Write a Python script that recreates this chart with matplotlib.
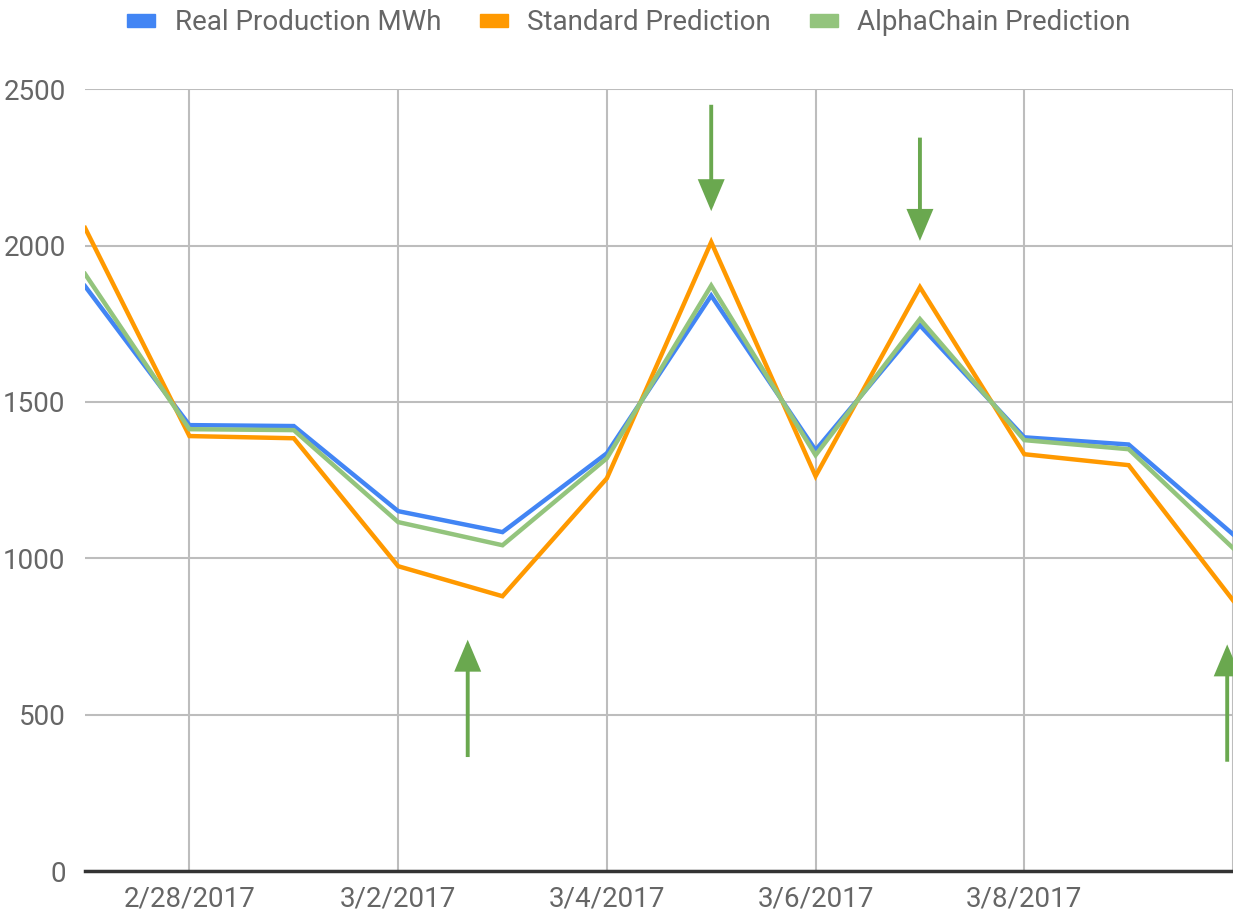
import matplotlib
matplotlib.use("Agg")
import matplotlib.pyplot as plt
import matplotlib.dates as mdates
from matplotlib.patches import Patch
import pandas as pd

plt.rcParams['font.family'] = ['Roboto', 'DejaVu Sans']

dates = pd.date_range("2017-02-27", "2017-03-10", freq="D")
real = [1870, 1426, 1423, 1151, 1084, 1336, 1840, 1346, 1745, 1387, 1364, 1077]
standard = [2056, 1391, 1384, 975, 879, 1256, 2011, 1263, 1867, 1333, 1298, 866]
alphachain = [1909, 1413, 1410, 1116, 1042, 1320, 1872, 1330, 1765, 1378, 1349, 1033]

series_names = ["Real Production MWh", "Standard Prediction", "AlphaChain Prediction"]
colors = ["#4285f4", "#ff9900", "#93c47d"]

# arrows: (date, y_tail, y_head)
arrows = [("2017-03-05 00:00", 2450, 2110),
          ("2017-03-07 00:00", 2345, 2015),
          ("2017-03-02 16:00", 365, 740),
          ("2017-03-09 22:40", 350, 725)]
arrow_color = "#6aa84f"

fig = plt.figure(figsize=(12.33, 9.19), dpi=100)
ax = fig.add_axes([0.069, 0.052, 0.931, 0.851])

for vals, c, name in zip([real, standard, alphachain], colors, series_names):
    ax.plot(dates, vals, color=c, lw=3.2, label=name, solid_joinstyle="miter")
ax.lines[2].set_zorder(3)

for d, y0, y1 in arrows:
    x = mdates.date2num(pd.Timestamp(d))
    ax.annotate("", xy=(x, y1), xytext=(x, y0),
                arrowprops=dict(arrowstyle="-|>,head_length=0.9,head_width=0.38",
                                mutation_scale=20, color=arrow_color, lw=2.8,
                                joinstyle="miter", capstyle="butt",
                                shrinkA=0, shrinkB=0),
                annotation_clip=False)

ax.set_xlim(dates[0], dates[-1])
ax.set_ylim(0, 2500)
ax.set_yticks(range(0, 2501, 500))
xt = pd.date_range("2017-02-28", "2017-03-08", freq="2D")
ax.set_xticks(xt)
ax.set_xticklabels([f"{d.month}/{d.day}/{d.year}" for d in xt])
ax.grid(True, color="#bdbdbd", lw=1.5)
ax.axvline(dates[-1], color="#bdbdbd", lw=1.5, zorder=0)
ax.axhline(0, color="#333333", lw=2.5, zorder=4, clip_on=False)
for s in ax.spines.values():
    s.set_visible(False)
ax.tick_params(length=0, labelsize=20, colors="#666666", pad=10)
ax.tick_params(axis="y", pad=14)

handles = [Patch(color=c) for c in colors]
fig.legend(handles, series_names, loc="upper center", bbox_to_anchor=(0.51, 1.017),
           ncol=3, frameon=False, fontsize=20, labelcolor="#666666",
           handlelength=1.0, handleheight=0.35, handletextpad=0.7, columnspacing=1.4)

fig.savefig("out.png", dpi=100)
